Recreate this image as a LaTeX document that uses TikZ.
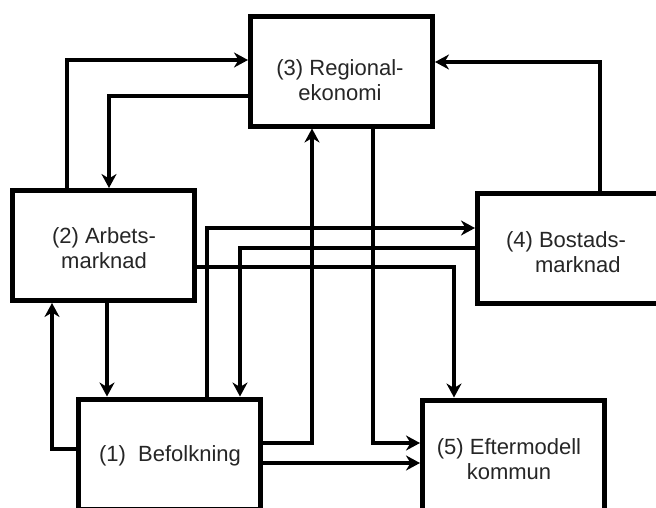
\documentclass[tikz,border=0pt]{standalone}
\usepackage{fontspec}
\setmainfont{Liberation Sans}
\usetikzlibrary{arrows.meta}
\tikzset{
  box/.style={draw=black, line width=5pt, fill=white, minimum width=182pt, minimum height=110pt, inner sep=0pt},
  arr/.style={draw=black, line width=3.2pt, -{Stealth[length=14pt,width=15pt,inset=4.5pt]}},
  lbl/.style={anchor=base, inner sep=0pt, text=black!85, font=\fontsize{22}{25}\selectfont}
}
\begin{document}
\begin{tikzpicture}[x=1pt, y=-1pt]
\useasboundingbox (0,0) rectangle (656,507);
\clip (0,0) rectangle (656,507);
% boxes
\node[box] (b3) at (341.5,71) {};
\node[box] (b2) at (103.5,245.5) {};
\node[box] (b4) at (568.5,248) {};
\node[box] (b1) at (169.5,454) {};
\node[box] (b5) at (513.5,455) {};
% labels
\node[lbl] (t3) at (340,75) {\begin{tabular}[t]{@{}c@{}}(3) Regional-\\ekonomi\end{tabular}};
\node[lbl] (t2) at (104,243) {\begin{tabular}[t]{@{}c@{}}(2) Arbets-\\marknad\end{tabular}};
\node[lbl] (t4) at (566,247) {\begin{tabular}[t]{@{}l@{}}(4) Bostads-\\\hspace{29pt}marknad\end{tabular}};
\node[lbl] (t1) at (170,461) {(1)\ \ Befolkning};
\node[lbl] (t5) at (509,454) {\begin{tabular}[t]{@{}c@{}}(5) Eftermodell\\kommun\end{tabular}};
% connectors
\draw[arr] (b2.north -| 67,0) |- (b3.west |- 0,60);
\draw[arr] (b3.west |- 0,96) -| (b2.north -| 109,0);
\draw[arr] (b4.north -| 600,0) |- (b3.east |- 0,62);
\draw[arr] (b3.south -| 373,0) |- (b5.west |- 0,443);
\draw[arr] (b1.east |- 0,443) -| (b3.south -| 312,0);
\draw[arr] (b1.east |- 0,463) -- (b5.west |- 0,463);
\draw[arr] (b1.west |- 0,449) -| (b2.south -| 52,0);
\draw[arr] (b2.south -| 107,0) -- (b1.north -| 107,0);
\draw[arr] (b1.north -| 207,0) |- (b4.west |- 0,228);
\draw[arr] (b4.west |- 0,248) -| (b1.north -| 240,0);
\draw[arr] (b2.east |- 0,267) -| (b5.north -| 454,0);
\end{tikzpicture}
\end{document}
